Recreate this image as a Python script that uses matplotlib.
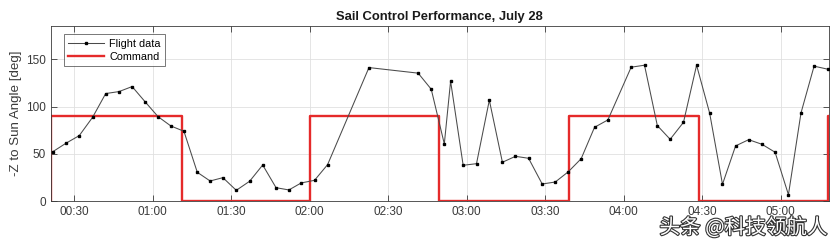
import matplotlib.pyplot as plt
import matplotlib.patheffects as pe
from matplotlib.ticker import FixedLocator, FuncFormatter

# flight data: minutes after midnight, angle in degrees
flight_t = [21.9, 26.9, 32.0, 37.1, 42.1, 47.2, 52.2, 57.1, 62.1, 67.0,
            72.0, 77.1, 82.0, 86.9, 92.0, 97.1, 102.1, 107.2, 112.1, 116.8,
            121.9, 126.9, 142.7, 161.5, 166.5, 171.5, 173.9, 178.7, 183.8, 188.7,
            193.7, 198.7, 203.7, 208.9, 213.9, 218.9, 223.8, 228.9, 234.0, 242.9,
            248.0, 252.9, 257.8, 262.9, 267.9, 272.9, 277.8, 282.8, 287.8, 292.9,
            297.9, 303.0, 307.8, 312.8, 318.0]
flight_deg = [52.2, 61.1, 69.2, 88.6, 113.7, 115.8, 121.1, 105.2, 89.3, 79.4,
              73.8, 30.4, 21.2, 24.7, 11.3, 20.9, 38.1, 14.1, 11.7, 19.1,
              21.9, 38.5, 141.2, 135.3, 118.3, 60.4, 126.8, 37.8, 39.5, 106.7,
              41.0, 47.3, 45.2, 18.0, 20.1, 31.0, 44.8, 78.0, 85.8, 141.6,
              143.7, 79.8, 65.3, 83.3, 143.7, 92.9, 17.7, 58.3, 64.9, 60.0,
              51.6, 6.7, 93.2, 142.7, 139.5]

# sail command steps (post-step values)
cmd_t = [21.1, 21.1, 71.1, 120.2, 169.6, 219.0, 268.9, 318.3, 318.6]
cmd_deg = [0, 90, 0, 90, 0, 90, 0, 90, 90]

tick_min = [30, 60, 90, 120, 150, 180, 210, 240, 270, 300]

plt.rcParams['font.family'] = ['Liberation Sans', 'DejaVu Sans']

fig = plt.figure(figsize=(8.4, 2.46), dpi=100)
ax = fig.add_axes([0.0604, 0.1829, 0.9265, 0.7126])

ax.step(cmd_t, cmd_deg, where='post', color='#e52a2a', lw=1.7, label='Command', zorder=2)
ax.plot(flight_t, flight_deg, color='#4a4a4a', lw=0.75, marker='s', ms=2.0,
        mfc='black', mec='black', label='Flight data', zorder=3)

ax.set_xlim(21.1, 318.5)
ax.set_ylim(0, 185.5)
ax.xaxis.set_major_locator(FixedLocator(tick_min))
ax.xaxis.set_major_formatter(FuncFormatter(lambda v, p: '%02d:%02d' % (v // 60, v % 60)))
ax.set_yticks([0, 50, 100, 150])

axcol = '#3a3a3a'
for s in ax.spines.values():
    s.set_color(axcol)
    s.set_linewidth(0.6)
ax.tick_params(direction='in', length=4, width=0.6, colors=axcol, labelsize=8.5,
               top=True, right=True, labelcolor='#3a3a3a')
ax.grid(True, color='#e0e0e0', lw=0.6)
ax.set_axisbelow(True)

ax.set_ylabel('-Z to Sun Angle [deg]', fontsize=9.6, color='#3a3a3a', labelpad=3)
ax.set_title('Sail Control Performance, July 28', fontsize=9.4, fontweight='bold',
             color='#1a1a1a', pad=4)

handles, labels = ax.get_legend_handles_labels()
leg = ax.legend(handles[::-1], labels[::-1], loc='upper left', fontsize=7.8,
                frameon=True, fancybox=False, borderpad=0.4, labelspacing=0.25,
                handlelength=3.3, handletextpad=0.5, borderaxespad=0.0,
                bbox_to_anchor=(0.017, 0.95))
leg.get_frame().set_edgecolor(axcol)
leg.get_frame().set_linewidth(0.6)

fig.text(0.9845, 0.03, '头条 @科技领航人', fontsize=14.8, color='white',
         family=['Noto Sans CJK SC', 'DejaVu Sans'], ha='right', va='bottom',
         path_effects=[pe.withStroke(linewidth=1.6, foreground='#333333')])

fig.savefig('out.png', dpi=100)
